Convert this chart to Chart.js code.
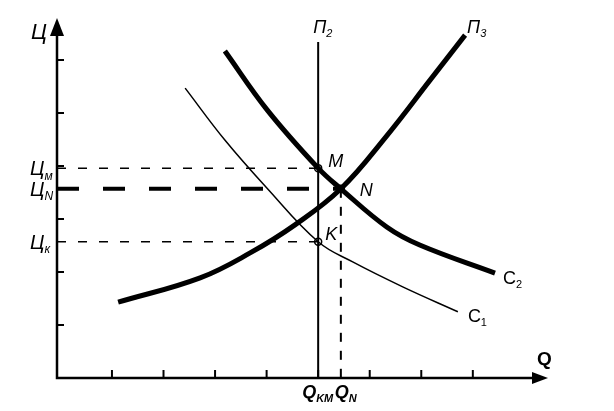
<html><head>
<title>Ц – Q</title>
<style>
  body { margin: 0; background: #fff; }
  #wrap { width: 614px; height: 411px; }
</style>
<script src="https://cdn.jsdelivr.net/npm/chart.js"></script>
</head>
<body>
<div id="wrap"><canvas id="chart" width="614" height="411"></canvas></div>
<script>
// axis ranges and ticks
const xMin = -0.066, xMax = 9.4;
const yMin = 0, yMax = 6.755;
const xTicks = [1, 2, 3, 4, 5, 6, 7, 8];
const yTicks = [1, 2, 3, 4, 5, 6];

// curves
const p3X = [1.12, 2.71, 3.68, 4.55, 5.44, 6.33, 7.17, 7.85];
const p3Y = [1.43, 1.89, 2.36, 2.89, 3.57, 4.57, 5.62, 6.47];
const c2X = [3.19, 4.01, 5.00, 5.44, 6.33, 6.97, 8.43];
const c2Y = [6.17, 5.06, 3.96, 3.57, 2.85, 2.51, 1.98];
const c1X = [2.42, 3.19, 4.00, 5.00, 5.67, 6.64, 7.71];
const c1Y = [5.47, 4.49, 3.59, 2.57, 2.19, 1.72, 1.25];
const p2X = 5.0, p2Top = 6.34;

// marked points M, N, K
const markNames = ['M', 'N', 'K'];
const markX = [5.00, 5.44, 5.00];
const markY = [3.96, 3.57, 2.57];

const toXY = (xs, ys) => xs.map((x, i) => ({ x: x, y: ys[i] }));

const datasets = [
  { data: toXY(p3X, p3Y), borderWidth: 5, tension: 0.4 },
  { data: toXY(c2X, c2Y), borderWidth: 5, tension: 0.4 },
  { data: toXY(c1X, c1Y), borderWidth: 1.5, tension: 0.4 },
  { data: [{ x: p2X, y: 0 }, { x: p2X, y: p2Top }], borderWidth: 2 },
  // price levels
  { data: [{ x: xMin, y: markY[0] }, { x: markX[0], y: markY[0] }], borderWidth: 1.5, borderDash: [9, 12] },
  { data: [{ x: xMin, y: markY[1] }, { x: markX[1], y: markY[1] }], borderWidth: 4, borderDash: [22, 24] },
  { data: [{ x: xMin, y: markY[2] }, { x: markX[2], y: markY[2] }], borderWidth: 1.5, borderDash: [9, 12] },
  { data: [{ x: markX[1], y: markY[1] }, { x: markX[1], y: 0 }], borderWidth: 2, borderDash: [9, 9] },
  { data: toXY(markX, markY), showLine: false, pointRadius: 3.5, pointBackgroundColor: '#fff',
    pointBorderColor: '#000', pointBorderWidth: 1.5 }
].map(d => Object.assign({ showLine: true, borderColor: '#000', pointRadius: 0, fill: false, clip: false }, d));

function sub(ctx, main, s, x, y, size, style) {
  ctx.font = style + ' ' + size + 'px "Liberation Sans", Arial, sans-serif';
  ctx.fillText(main, x, y);
  const w = ctx.measureText(main).width;
  ctx.font = style + ' ' + Math.round(size * 0.6) + 'px "Liberation Sans", Arial, sans-serif';
  ctx.fillText(s, x + w, y + size * 0.22);
}

const axesPlugin = {
  id: 'axes',
  afterDraw(chart) {
    const ctx = chart.ctx, xs = chart.scales.x, ys = chart.scales.y;
    const x0 = xs.getPixelForValue(xMin), y0 = ys.getPixelForValue(0);
    const right = xs.getPixelForValue(xMax), top = ys.getPixelForValue(yMax);
    ctx.save();
    ctx.strokeStyle = '#000';
    ctx.fillStyle = '#000';
    ctx.lineWidth = 2.5;
    ctx.beginPath();
    ctx.moveTo(x0, top + 10); ctx.lineTo(x0, y0); ctx.lineTo(right - 10, y0);
    ctx.stroke();
    // arrow heads
    ctx.beginPath();
    ctx.moveTo(x0, top - 2); ctx.lineTo(x0 - 7, top + 16); ctx.lineTo(x0 + 7, top + 16); ctx.closePath();
    ctx.fill();
    ctx.beginPath();
    ctx.moveTo(right + 3, y0); ctx.lineTo(right - 13, y0 - 6); ctx.lineTo(right - 13, y0 + 6); ctx.closePath();
    ctx.fill();
    // ticks
    ctx.lineWidth = 2;
    yTicks.forEach(v => {
      const py = ys.getPixelForValue(v);
      ctx.beginPath(); ctx.moveTo(x0, py); ctx.lineTo(x0 + 7, py); ctx.stroke();
    });
    xTicks.forEach(v => {
      const px = xs.getPixelForValue(v);
      ctx.beginPath(); ctx.moveTo(px, y0); ctx.lineTo(px, y0 - 8); ctx.stroke();
    });

    // labels
    ctx.textBaseline = 'alphabetic';
    ctx.textAlign = 'left';
    ctx.font = 'italic 22px "Liberation Sans", Arial, sans-serif';
    ctx.fillText('Ц', x0 - 26, top + 19);
    const levels = [['Ц', 'м'], ['Ц', 'N'], ['Ц', 'к']];
    levels.forEach((l, i) => {
      const py = ys.getPixelForValue(markY[i]);
      sub(ctx, l[0], l[1], x0 - 27, py + 7, 20, 'italic');
    });
    markNames.forEach((n, i) => {
      const px = xs.getPixelForValue(markX[i]), py = ys.getPixelForValue(markY[i]);
      const off = [[10, -1], [19, 7], [7, -2]][i];
      ctx.font = 'italic 18px "Liberation Sans", Arial, sans-serif';
      ctx.fillText(n, px + off[0], py + off[1]);
    });
    const p2px = xs.getPixelForValue(p2X), p2py = ys.getPixelForValue(p2Top);
    sub(ctx, 'П', '2', p2px - 5, p2py - 9, 18, 'italic');
    const n3 = p3X.length - 1;
    sub(ctx, 'П', '3', xs.getPixelForValue(p3X[n3]) + 2, ys.getPixelForValue(p3Y[n3]) - 2, 18, 'italic');
    const n2 = c2X.length - 1;
    sub(ctx, 'C', '2', xs.getPixelForValue(c2X[n2]) + 8, ys.getPixelForValue(c2Y[n2]) + 11, 18, '');
    const n1 = c1X.length - 1;
    sub(ctx, 'C', '1', xs.getPixelForValue(c1X[n1]) + 10, ys.getPixelForValue(c1Y[n1]) + 10, 18, '');
    ctx.font = 'bold 19px "Liberation Sans", Arial, sans-serif';
    ctx.fillText('Q', right - 8, y0 - 13);
    sub(ctx, 'Q', 'KM', xs.getPixelForValue(markX[0]) - 16, y0 + 20, 18, 'bold italic');
    sub(ctx, 'Q', 'N', xs.getPixelForValue(markX[1]) - 6, y0 + 20, 18, 'bold italic');
    ctx.restore();
  }
};

new Chart(document.getElementById('chart'), {
  type: 'scatter',
  data: { datasets: datasets },
  options: {
    responsive: false,
    animation: false,
    layout: { padding: { left: 57, right: 69, top: 20, bottom: 33 } },
    plugins: { legend: { display: false }, tooltip: { enabled: false } },
    scales: {
      x: { type: 'linear', min: xMin, max: xMax, display: false },
      y: { type: 'linear', min: yMin, max: yMax, display: false }
    }
  },
  plugins: [axesPlugin]
});
</script>
</body></html>
